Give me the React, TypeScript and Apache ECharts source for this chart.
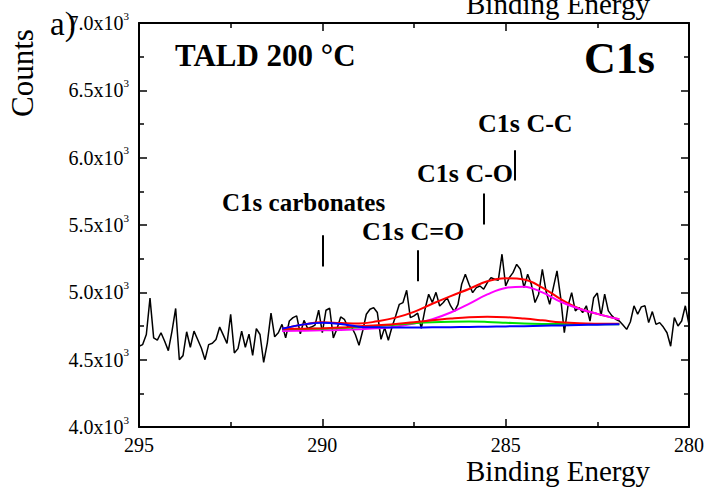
import React, { useEffect, useRef } from "react";
import * as echarts from "echarts";

// Spectrum sampling grid (binding energy, eV)
const energyStart = 295;
const energyStep = 0.1;

// Measured counts, from 295.0 eV down to 280.0 eV
const counts = [
  4600, 4612, 4687, 4957, 4662, 4645, 4700, 4637, 4567, 4712, 4880, 4500, 4530, 4707, 4592, 4712,
  4650, 4587, 4500, 4612, 4622, 4650, 4742, 4682, 4620, 4837, 4550, 4582, 4712, 4592, 4690,
  4532, 4730, 4687, 4480, 4625, 4845, 4670, 4700, 4762, 4662, 4787, 4812, 4825, 4692, 4792,
  4732, 4742, 4757, 4867, 4700, 4867, 4882, 4662, 4730, 4817, 4800, 4742, 4742, 4687, 4607,
  4713, 4837, 4874, 4886, 4850, 4651, 4738, 4644, 4743, 4825, 4911, 4924, 5015, 4812, 4825,
  4845, 4733, 4874, 4986, 4924, 5000, 4899, 4924, 4961, 4899, 4857, 4911, 5060, 5134, 5060, 4998,
  5035, 5047, 5023, 5072, 5109, 5097, 5090, 5283, 5047, 5109, 5146, 5208, 5171, 5035, 5134,
  5060, 4924, 4986, 5171, 5010, 4911, 5035, 5159, 4961, 4701, 4899, 4998, 4862, 4887, 4850,
  4900, 4787, 4960, 4995, 4825, 4987, 4862, 4825, 4800, 4787, 4757, 4725, 4780, 4900, 4837,
  4892, 4900, 4775, 4857, 4762, 4775, 4742, 4700, 4600, 4812, 4750, 4787, 4900, 4760,
];

// Fit curves
const fitEnergy = [291.1, 290.5, 290, 289.5, 289, 288.5, 288, 287.5, 287, 286.5, 286, 285.5, 285, 284.5, 284, 283.5, 283, 282.5, 281.9];
const fitEnvelope = [4730, 4762, 4778, 4772, 4768, 4785, 4812, 4855, 4915, 4972, 5025, 5082, 5104, 5095, 5035, 4950, 4880, 4840, 4800];
const fitCC = [4712, 4715, 4718, 4720, 4726, 4733, 4745, 4768, 4800, 4850, 4915, 4985, 5033, 5042, 5000, 4930, 4878, 4840, 4800];
const fitCO = [4728, 4730, 4733, 4738, 4748, 4755, 4765, 4777, 4792, 4805, 4815, 4818, 4815, 4805, 4792, 4778, 4770, 4767, 4766];
const fitCdO = [4725, 4728, 4730, 4735, 4740, 4750, 4760, 4770, 4778, 4782, 4783, 4780, 4774, 4768, 4765, 4764, 4763, 4763, 4763];
const fitCarb = [4730, 4762, 4775, 4765, 4745, 4740, 4738, 4739, 4740, 4741, 4743, 4745, 4747, 4749, 4752, 4754, 4757, 4760, 4763];

// Peak markers
const markerEnergy = [284.75, 285.6, 290.0, 287.4];
const markerBottom = [5830, 5503, 5192, 5082];
const markerTop = [6055, 5733, 5423, 5312];

const FONT = "'Liberation Serif', 'Times New Roman', serif";

function pairs(xs: number[], ys: number[]) {
  return ys.map((y, i) => [xs[i], y]);
}

export default function App() {
  const ref = useRef<HTMLDivElement>(null);
  useEffect(() => {
    if (!ref.current) return;
    const chart = echarts.init(ref.current, null, { renderer: "svg" });
    const spectrum = counts.map((c, i) => [energyStart - i * energyStep, c]);

    const axisCommon = {
      type: "value" as const,
      min: 280,
      max: 295,
      interval: 5,
      inverse: true,
      axisLine: { show: true, onZero: false, lineStyle: { color: "#000", width: 2 } },
      axisTick: { show: true, inside: true, length: 8, lineStyle: { color: "#000", width: 1.5 } },
      minorTick: { show: true, splitNumber: 2, length: 5, lineStyle: { color: "#000", width: 1.5 } },
      splitLine: { show: false },
      minorSplitLine: { show: false },
    };
    const yCommon = {
      type: "value" as const,
      min: 4000,
      max: 7000,
      interval: 500,
      axisLine: { show: true, onZero: false, lineStyle: { color: "#000", width: 2 } },
      axisTick: { show: true, inside: true, length: 8, lineStyle: { color: "#000", width: 1.5 } },
      minorTick: { show: true, splitNumber: 2, length: 5, lineStyle: { color: "#000", width: 1.5 } },
      splitLine: { show: false },
      minorSplitLine: { show: false },
    };

    const fitSeries = (name: string, data: number[], color: string) => ({
      name,
      type: "line" as const,
      data: pairs(fitEnergy, data),
      smooth: 0.4,
      showSymbol: false,
      symbol: "none",
      lineStyle: { color, width: 2 },
      z: 3,
    });

    chart.setOption({
      animation: false,
      textStyle: { fontFamily: FONT, color: "#000" },
      grid: { left: 139, right: 17, top: 23, bottom: 70, containLabel: false },
      xAxis: [
        {
          ...axisCommon,
          position: "bottom",
          axisLabel: { show: true, color: "#000", fontSize: 20, fontFamily: FONT, margin: 8 },
        },
        { ...axisCommon, position: "top", axisLabel: { show: false } },
      ],
      yAxis: [
        {
          ...yCommon,
          position: "left",
          axisLabel: {
            show: true,
            margin: 10,
            formatter: (v: number) => `{m|${(v / 1000).toFixed(1)}x10}{s|3}`,
            rich: {
              m: { fontSize: 20, fontFamily: FONT, color: "#000", lineHeight: 26 },
              s: { fontSize: 11, fontFamily: FONT, color: "#000", lineHeight: 11, verticalAlign: "top" },
            },
          },
        },
        { ...yCommon, position: "right", axisLabel: { show: false } },
      ],
      series: [
        {
          name: "C1s",
          type: "line",
          data: spectrum,
          showSymbol: false,
          symbol: "none",
          lineStyle: { color: "#000", width: 1.5 },
          z: 2,
          markLine: {
            silent: true,
            symbol: "none",
            label: { show: false },
            lineStyle: { color: "#000", width: 2, type: "solid" },
            data: markerEnergy.map((e, i) => [
              { coord: [e, markerBottom[i]] },
              { coord: [e, markerTop[i]] },
            ]),
          },
        },
        fitSeries("Envelope", fitEnvelope, "#ff0000"),
        fitSeries("C-C", fitCC, "#ff00ff"),
        fitSeries("C=O", fitCdO, "#00e000"),
        fitSeries("C-O", fitCO, "#ff0000"),
        fitSeries("Carbonates", fitCarb, "#0000ff"),
      ],
      graphic: [
        { type: "text", x: 50, y: 24, style: { text: "a)", fontSize: 33, fontFamily: FONT, fill: "#000", align: "left", verticalAlign: "middle" }, z: 10 },
        { type: "text", x: 22, y: 73, rotation: Math.PI / 2, style: { text: "Counts", fontSize: 31, fontFamily: FONT, fill: "#000", align: "center", verticalAlign: "middle" } },
        { type: "text", x: 558, y: 4, style: { text: "Binding Energy", fontSize: 29, fontFamily: FONT, fill: "#000", align: "center", verticalAlign: "middle" } },
        { type: "text", x: 558, y: 471, style: { text: "Binding Energy", fontSize: 29, fontFamily: FONT, fill: "#000", align: "center", verticalAlign: "middle" } },
        { type: "text", x: 175, y: 55, style: { text: "TALD 200 °C", fontSize: 31, fontWeight: "bold", fontFamily: FONT, fill: "#000", align: "left", verticalAlign: "middle" } },
        { type: "text", x: 655, y: 58, style: { text: "C1s", fontSize: 44, fontWeight: "bold", fontFamily: FONT, fill: "#000", align: "right", verticalAlign: "middle" } },
        { type: "text", x: 478, y: 123, style: { text: "C1s C-C", fontSize: 26, fontWeight: "bold", fontFamily: FONT, fill: "#000", align: "left", verticalAlign: "middle" } },
        { type: "text", x: 417, y: 173, style: { text: "C1s C-O", fontSize: 26, fontWeight: "bold", fontFamily: FONT, fill: "#000", align: "left", verticalAlign: "middle" } },
        { type: "text", x: 222, y: 202, style: { text: "C1s carbonates", fontSize: 25, fontWeight: "bold", fontFamily: FONT, fill: "#000", align: "left", verticalAlign: "middle" } },
        { type: "text", x: 362, y: 231, style: { text: "C1s C=O", fontSize: 26, fontWeight: "bold", fontFamily: FONT, fill: "#000", align: "left", verticalAlign: "middle" } },
      ],
    });
    return () => chart.dispose();
  }, []);
  return (
    <div
      ref={ref}
      style={{ position: "fixed", left: 0, top: 0, width: 707, height: 497, background: "#fff" }}
    />
  );
}
